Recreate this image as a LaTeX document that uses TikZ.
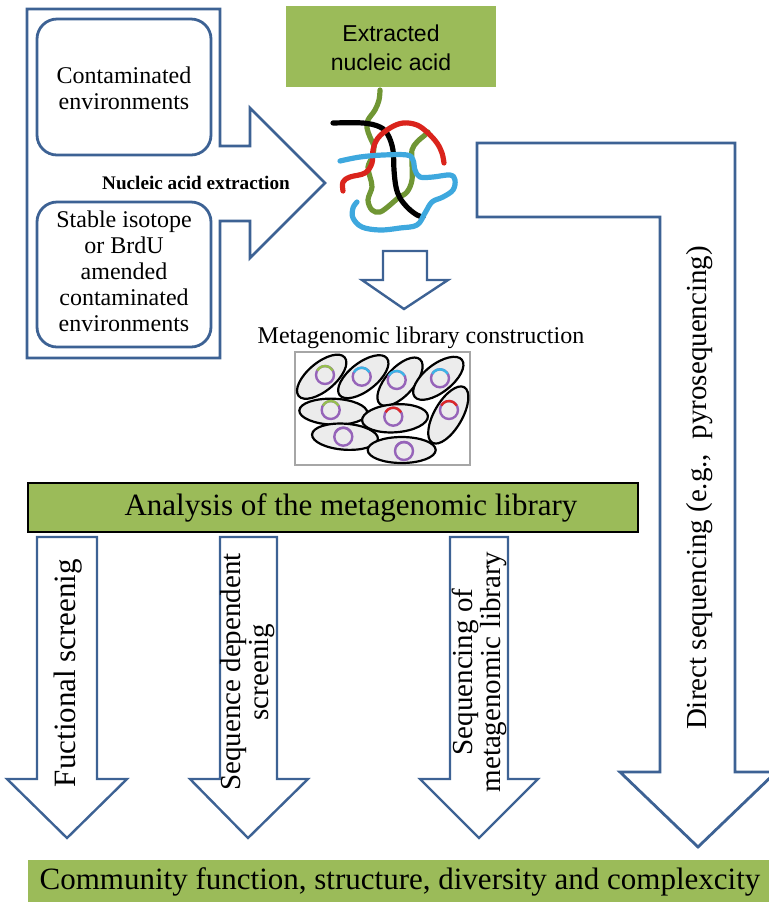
\documentclass[tikz,border=0pt]{standalone}
\usepackage{fontspec}
\setmainfont{Liberation Serif}
\newfontfamily\sansfont{Liberation Sans}

\definecolor{frameblue}{RGB}{61,98,148}
\definecolor{boxgreen}{RGB}{155,187,89}
\definecolor{dnablue}{RGB}{62,168,222}
\definecolor{dnared}{RGB}{218,36,28}
\definecolor{dnagreen}{RGB}{112,150,52}
\definecolor{plasmid}{RGB}{150,100,185}
\definecolor{insgreen}{RGB}{150,190,80}
\definecolor{insblue}{RGB}{60,180,230}
\definecolor{insred}{RGB}{220,40,40}

\tikzset{
  outline/.style={draw=frameblue, line width=1.4pt, line join=miter, fill=white},
  envbox/.style={draw=frameblue, line width=1.4pt, rounded corners=10pt},
  greenbox/.style={fill=boxgreen, inner sep=0pt},
  strand/.style={line width=2.6pt, line cap=round, line join=round},
  cell/.style={draw=black, line width=1.1pt, fill=gray!15},
  body/.style={font=\fontsize{12}{13}\selectfont, align=center},
  side/.style={font=\fontsize{14.5}{14}\selectfont, align=center, rotate=90},
  big/.style={font=\fontsize{15.5}{17}\selectfont},
}

\begin{document}
\begin{tikzpicture}[x=0.5pt,y=-0.5pt]
	\useasboundingbox (0,0) rectangle (768,902);

	% samples and the extraction arrow
	\draw[outline] (27,9) -- (220,9) -- (220,146) -- (250,146) -- (250,108) -- (325,183)
		-- (250,258) -- (250,221) -- (220,221) -- (220,358) -- (27,358) -- cycle;
	\draw[envbox] (37,19) rectangle (211,155);
	\draw[envbox] (37,202) rectangle (211,347);
	\node[body] (env) at (124,88) {Contaminated\\environments};
	\node[body] (sip) at (124,271) {Stable isotope\\or BrdU\\amended\\contaminated\\environments};
	\node[font=\fontsize{9.6}{11}\selectfont\bfseries] (extract) at (196,183) {Nucleic acid extraction};

	% extracted nucleic acid
	\node[greenbox, minimum width=105pt, minimum height=40.5pt] (nucleic) at (391,46.5) {};
	\node[font=\sansfont\fontsize{11.5}{14.5}\selectfont, align=center] (nucleictxt) at (391,48) {Extracted\\nucleic acid};

	\draw[strand, dnagreen] plot[smooth, tension=0.6] coordinates{(380,90) (379,100) (375,110) (368,120) (367,128) (370,137) (374,147) (372,157) (368,167) (370,177) (372,187) (368,200) (372,210) (380,212) (390,205) (398,198) (407,192) (412,180) (412,163) (412,150) (417,142) (425,135) (428,132)};
	\draw[strand, black] plot[smooth, tension=0.6] coordinates{(333,123) (363,123) (380,127) (388,135) (393,150) (394,170) (396,187) (400,198) (408,208) (417,215) (423,217)};
	\draw[strand, dnared] plot[smooth, tension=0.6] coordinates{(343,191) (343,182) (350,177) (365,173) (372,163) (373,150) (378,138) (390,128) (403,123) (417,125) (428,133) (437,143) (442,153) (444,163)};
	\draw[strand, dnablue] plot[smooth, tension=0.6] coordinates{(340,161) (360,157) (383,155) (407,155) (413,160) (415,170) (420,177) (433,177) (450,175) (455,180) (453,190) (443,197) (432,202) (425,213) (417,225) (400,228) (380,230) (362,227) (353,218) (353,208) (357,202)};

	\draw[outline, line width=1.2pt] (383,251) -- (427,251) -- (427,280) -- (448,280) -- (404,309) -- (362,280) -- (383,280) -- cycle;

	% library
	\node[body] (libtitle) at (421,338) {Metagenomic library construction};
	\draw[draw=gray!70, line width=1pt] (295,352) rectangle (470,465);
	\foreach \cx/\cy/\ang/\rx/\ry in {321.7/376.7/40/30/14, 363.3/376.7/38/30/14, 400/381.7/48/30/14, 438.3/378.3/38/30/14,
		333.3/411.7/-2/34/13, 395/418.3/4/33/14, 448.3/415/60/32/14, 345/436.7/-4/33/13, 401.7/450/0/34/13}
		\draw[cell, rotate around={\ang:(\cx,\cy)}] (\cx,\cy) ellipse [x radius=\rx, y radius=\ry];
	\foreach \cx/\cy/\ins in {325/375/insgreen, 361.7/376.7/insblue, 396.7/380/insblue, 440/378.3/insblue,
		330.7/410/insgreen, 393.3/416.7/insred, 449/410/insred, 343.3/436.7/plasmid, 404/451/plasmid}
	{
		\draw[plasmid, line width=1.2pt] (\cx,\cy) circle (9);
		\draw[\ins, line width=1.2pt] ([shift={(210:9)}]\cx,\cy) arc (210:330:9);
	}

	% analysis and the routes below it
	\node[greenbox, draw=black, line width=0.7pt, minimum width=305pt, minimum height=24.5pt] (analysis) at (333,507.5) {};
	\node[big] (analysistxt) at (351,508) {Analysis of the metagenomic library};

	\draw[outline, line width=1.2pt] (37,537) -- (97,537) -- (97,779) -- (127,779) -- (67,838) -- (7,779) -- (37,779) -- cycle;
	\draw[outline, line width=1.2pt] (220,537) -- (277,537) -- (277,779) -- (308,779) -- (248,838) -- (190,779) -- (220,779) -- cycle;
	\draw[outline, line width=1.2pt] (450,537) -- (508,537) -- (508,779) -- (538,779) -- (479,838) -- (420,779) -- (450,779) -- cycle;
	\node[side, font=\fontsize{15.5}{14}\selectfont] (func) at (68,673) {Fuctional screenig};
	\node[side] (seqdep) at (248,672) {Sequence dependent\\screenig};
	\node[side] (seqlib) at (479,672) {Sequencing of\\metagenomic library};

	% direct sequencing
	\draw[outline, line width=1.4pt] (477,143) -- (735,143) -- (735,772) -- (776,772) -- (698,847) -- (620,772)
		-- (660,772) -- (660,217) -- (477,217) -- cycle;
	\node[side] (direct) at (700,488) {Direct sequencing (e.g.,~~pyrosequencing)};

	\node[greenbox, minimum width=371pt, minimum height=22pt] (community) at (399,882) {};
	\node[big] (communitytxt) at (400,882) {Community function, structure, diversity and complexcity};
\end{tikzpicture}
\end{document}
